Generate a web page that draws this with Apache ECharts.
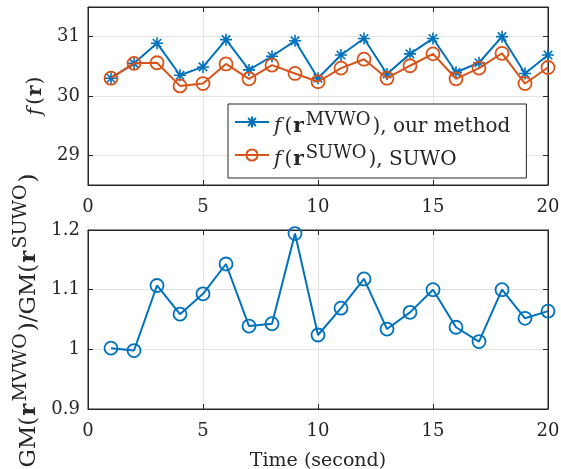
<!DOCTYPE html>
<html><head><meta charset="utf-8">
<script src="https://cdn.jsdelivr.net/npm/echarts@6/dist/echarts.min.js"></script>
<style>html,body{margin:0;padding:0;background:#fff}#c{width:561px;height:469px}</style>
</head><body><div id="c"></div>
<script>
const time = [1,2,3,4,5,6,7,8,9,10,11,12,13,14,15,16,17,18,19,20];
const fMVWO = [30.30,30.55,30.89,30.35,30.49,30.95,30.44,30.67,30.93,30.30,30.69,30.97,30.37,30.71,30.97,30.40,30.56,31.00,30.38,30.69];
const fSUWO = [30.30,30.55,30.56,30.17,30.21,30.54,30.29,30.52,30.38,30.24,30.47,30.62,30.30,30.51,30.71,30.29,30.47,30.72,30.21,30.48];
const gmRatio = [1.002,0.998,1.107,1.059,1.093,1.143,1.039,1.043,1.194,1.024,1.069,1.118,1.034,1.062,1.100,1.037,1.013,1.100,1.052,1.064];
const xTicks = [0,5,10,15,20];
const yTopTicks = [29,30,31];
const yBotTicks = [0.9,1,1.1,1.2];

const FONT = 'DejaVu Serif';
const AX = '#262626';
const BLUE = '#0072BD', ORANGE = '#D95319';
const asterisk = 'path://M0,-10L0,10M-10,0L10,0M-7.07,-7.07L7.07,7.07M-7.07,7.07L7.07,-7.07';
function mkRich(main, sup, lh, raise, endPad) {
  return {
    i:{fontFamily:FONT,fontStyle:'italic',fontSize:main,color:AX,verticalAlign:'bottom',lineHeight:lh,padding:[0,3,0,0]},
    n:{fontFamily:FONT,fontSize:main,color:AX,verticalAlign:'bottom',lineHeight:lh},
    e:{fontFamily:FONT,fontSize:main,color:AX,verticalAlign:'bottom',lineHeight:lh,padding:[0,endPad||0,0,0]},
    b:{fontFamily:FONT,fontWeight:'bold',fontSize:main,color:AX,verticalAlign:'bottom',lineHeight:lh,padding:[0,1,0,1]},
    s:{fontFamily:FONT,fontSize:sup,color:AX,verticalAlign:'bottom',lineHeight:lh,padding:[0,2,raise,1]}
  };
}
const pair = (xs, ys) => xs.map((x,i)=>[x,ys[i]]);

function xAx(grid, pos, labels) {
  return {type:'value', gridIndex:grid, position:pos, min:0, max:20, interval:5,
    axisLine:{show:true,onZero:false,lineStyle:{color:AX,width:1}},
    axisTick:{show:true,inside:true,length:5,customValues:xTicks,lineStyle:{color:AX}},
    axisLabel:{show:labels,customValues:xTicks,color:AX,fontFamily:FONT,fontSize:18,margin:13},
    splitLine:{show:labels,lineStyle:{color:'#e3e3e3',width:1}},
    name: (labels && grid===1)?'Time (second)':'', nameLocation:'middle', nameGap:43,
    nameTextStyle:{color:AX,fontFamily:FONT,fontSize:19,verticalAlign:'top'}};
}
function yAx(grid, pos, labels, min, max, ticks, name, gap, rich) {
  return {type:'value', gridIndex:grid, position:pos, min:min, max:max,
    axisLine:{show:true,onZero:false,lineStyle:{color:AX,width:1}},
    axisTick:{show:true,inside:true,length:5,customValues:ticks,lineStyle:{color:AX}},
    axisLabel:{show:labels,customValues:ticks,color:AX,fontFamily:FONT,fontSize:18,margin:8},
    splitLine:{show:labels,lineStyle:{color:'#e3e3e3',width:1}},
    name: labels?name:'', nameLocation:'middle', nameGap:gap, nameRotate:90,
    nameTextStyle:{rich:rich||{}}};
}

const chart = echarts.init(document.getElementById('c'), null, {renderer:'canvas'});
chart.setOption({
  animation:false,
  backgroundColor:'#fff',
  grid:[
    {left:88, right:13, top:7, height:178, containLabel:false, outerBoundsMode:'none', show:true, borderColor:AX, borderWidth:1, backgroundColor:'#fff'},
    {left:88, right:13, top:230, height:179, containLabel:false, outerBoundsMode:'none', show:true, borderColor:AX, borderWidth:1, backgroundColor:'#fff'}
  ],
  xAxis:[xAx(0,'bottom',true), xAx(0,'top',false), xAx(1,'bottom',true), xAx(1,'top',false)],
  yAxis:[
    yAx(0,'left',true,28.5,31.5,yTopTicks,'{i|f}{n|(}{b|r}{n|)}',42,mkRich(20,16,30,9)),
    yAx(0,'right',false,28.5,31.5,yTopTicks,'',0),
    yAx(1,'left',true,0.9,1.2,yBotTicks,'{n|GM(}{b|r}{s|MVWO}{n|)/GM(}{b|r}{s|SUWO}{e|)}',44,mkRich(23,19,34,10,2)),
    yAx(1,'right',false,0.9,1.2,yBotTicks,'',0)
  ],
  legend:{
    orient:'vertical', left:228, top:104,
    padding:[7,16,8,6], itemGap:7, itemWidth:34, itemHeight:14,
    backgroundColor:'#fff', borderColor:AX, borderWidth:1, borderRadius:0,
    data:['mvwo','suwo'],
    formatter: function(n){
      return n==='mvwo' ? '{i|f}{n|(}{b|r}{s|MVWO}{n|), our method}' : '{i|f}{n|(}{b|r}{s|SUWO}{n|), SUWO}';
    },
    textStyle:{rich:mkRich(20,18,30,8)}
  },
  series:[
    {name:'mvwo', type:'line', xAxisIndex:0, yAxisIndex:0, data:pair(time,fMVWO),
     symbol:asterisk, symbolSize:12, showAllSymbol:true,
     lineStyle:{color:BLUE,width:2}, itemStyle:{color:'none',borderColor:BLUE,borderWidth:1.6}, z:2},
    {name:'suwo', type:'line', xAxisIndex:0, yAxisIndex:0, data:pair(time,fSUWO),
     symbol:'circle', symbolSize:13, showAllSymbol:true,
     lineStyle:{color:ORANGE,width:2}, itemStyle:{color:'none',borderColor:ORANGE,borderWidth:1.8}, z:3},
    {name:'ratio', type:'line', xAxisIndex:2, yAxisIndex:2, data:pair(time,gmRatio),
     symbol:'circle', symbolSize:13, showAllSymbol:true,
     lineStyle:{color:BLUE,width:2}, itemStyle:{color:'none',borderColor:BLUE,borderWidth:1.8}, z:2}
  ]
});
</script></body></html>
